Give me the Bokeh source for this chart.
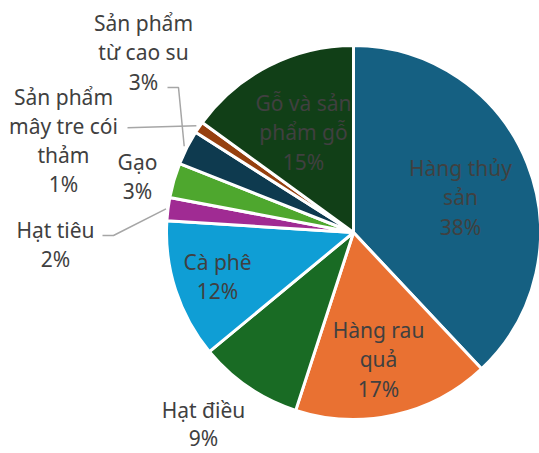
import math
from bokeh.plotting import figure
from bokeh.models import Range1d
from bokeh.core.properties import value
from bokeh.embed import file_html
from bokeh.resources import INLINE

# ---- data ----
categories = ["Hàng thủy sản", "Hàng rau quả", "Hạt điều", "Cà phê", "Hạt tiêu",
              "Gạo", "Sản phẩm từ cao su", "Sản phẩm mây tre cói thảm", "Gỗ và sản phẩm gỗ"]
shares = [38, 17, 9, 12, 2, 3, 3, 1, 15]
label_lines = [["Hàng thủy", "sản"], ["Hàng rau", "quả"], ["Hạt điều"], ["Cà phê"], ["Hạt tiêu"],
               ["Gạo"], ["Sản phẩm", "từ cao su"], ["Sản phẩm", "mây tre cói", "thảm"],
               ["Gỗ và sản", "phẩm gỗ"]]

# ---- style / layout ----
colors = ["#156082", "#E97132", "#196B24", "#0F9ED5", "#A02B93", "#4EA72E",
          "#0E3A4F", "#96400F", "#113F17"]
IMG_W, IMG_H = 539, 453
CX, CY, R = 353, 232, 187          # pie centre / radius in image pixels
label_anchor = [(460, 167), (378, 329), (203, 409), (217, 261), (55, 229),
                (137, 161), (143, 22), (63, 96), (303, 102)]
label_step = [29.5, 29.5, 28, 29.5, 29, 29, 29.5, 29, 29.5]
FONT = "Noto Sans"
FONT_SIZE = "21px"
TEXT_COLOR = "#404040"

def Y(y_img):
    return IMG_H - y_img

p = figure(width=IMG_W, height=IMG_H, output_backend="svg", toolbar_location=None,
           x_range=Range1d(0, IMG_W), y_range=Range1d(0, IMG_H),
           min_border=0, outline_line_color=None)
p.axis.visible = False
p.grid.visible = False
p.background_fill_color = "white"

total = float(sum(shares))
cum = 0.0
mids = []
for v, c in zip(shares, colors):
    a0 = math.pi / 2 - 2 * math.pi * cum / total
    a1 = math.pi / 2 - 2 * math.pi * (cum + v) / total
    p.wedge(x=CX, y=Y(CY), radius=R, start_angle=a0, end_angle=a1, direction="clock",
            fill_color=c, line_color="white", line_width=3)
    mids.append((cum + v / 2) / total)
    cum += v

def edge_pt(frac, r):
    th = 2 * math.pi * frac
    return CX + r * math.sin(th), CY - r * math.cos(th)

# leader lines for outside labels
lead_col = "#A6A6A6"
ex, ey = edge_pt(mids[6], R + 3)
p.line(x=[167, 178, ex], y=[Y(87), Y(87), Y(ey)], line_color=lead_col, line_width=1.5)
ex, ey = edge_pt(mids[7], R + 3)
p.line(x=[127, ex], y=[Y(ey + 2), Y(ey)], line_color=lead_col, line_width=1.5)
ex, ey = edge_pt(mids[4], R + 2)
p.line(x=[102, 113, ex], y=[Y(235), Y(235), Y(ey)], line_color=lead_col, line_width=1.5)

# labels
xs, ys, ts = [], [], []
for lines, v, (ax, ay), st in zip(label_lines, shares, label_anchor, label_step):
    for i, t in enumerate(lines + [f"{v}%"]):
        xs.append(ax)
        ys.append(Y(ay + i * st))
        ts.append(t)
p.text(x=xs, y=ys, text=ts, text_align="center", text_baseline="middle",
       text_font=value(FONT), text_font_size=FONT_SIZE, text_color=TEXT_COLOR)

open("out.html", "w").write(file_html(p, INLINE))
